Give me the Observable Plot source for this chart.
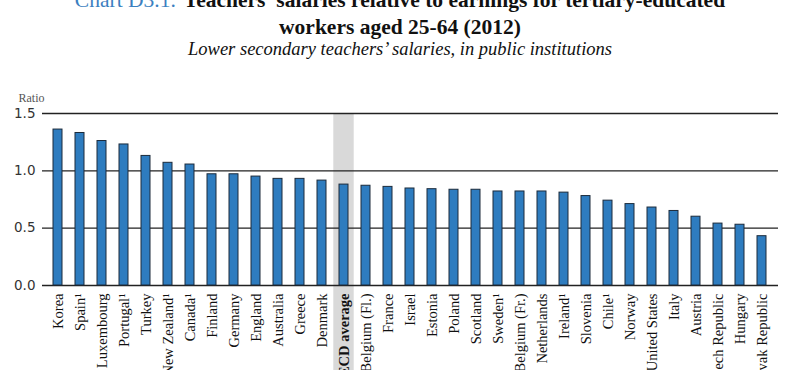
<!DOCTYPE html>
<html><head><meta charset="utf-8">
<script src="https://cdn.jsdelivr.net/npm/d3@7"></script>
<script src="https://cdn.jsdelivr.net/npm/@observablehq/plot@0.6"></script>
<style>
html,body{margin:0;padding:0;background:#fff;}
body{width:800px;height:370px;overflow:hidden;position:relative;}
.hd{position:absolute;left:0;width:800px;text-align:center;font-family:"Liberation Serif",serif;white-space:nowrap;}
.l1{top:-11px;font-size:21.5px;line-height:22px;font-weight:bold;color:#111;}
.l1 .cn{color:#3b7fc0;font-weight:normal;margin-right:8px;}
.l2{top:16px;font-size:21.5px;line-height:22px;font-weight:bold;color:#111;}
.l3{top:39px;font-size:18.5px;line-height:20px;font-style:italic;color:#111;}
#chart{position:absolute;left:0;top:60px;}
</style>
</head><body>
<div class="hd l1"><span class="cn">Chart D3.1.</span>Teachers’ salaries relative to earnings for tertiary-educated</div>
<div class="hd l2">workers aged 25-64 (2012)</div>
<div class="hd l3">Lower secondary teachers’ salaries, in public institutions</div>
<div id="chart"></div>
<script>
const countries = ["Korea","Spain¹","Luxembourg","Portugal¹","Turkey","New Zealand¹","Canada¹","Finland","Germany","England","Australia","Greece","Denmark","OECD average","Belgium (Fl.)","France","Israel","Estonia","Poland","Scotland","Sweden¹","Belgium (Fr.)","Netherlands","Ireland¹","Slovenia","Chile¹","Norway","United States","Italy","Austria","Czech Republic","Hungary","Slovak Republic"];
const ratios = [1.36,1.33,1.26,1.23,1.13,1.07,1.055,0.97,0.97,0.95,0.93,0.93,0.915,0.88,0.87,0.86,0.846,0.84,0.835,0.835,0.82,0.82,0.82,0.81,0.78,0.74,0.71,0.68,0.65,0.60,0.54,0.53,0.43];
const highlight = ["OECD average"];
const yTicks = [0, 0.5, 1.0, 1.5];
const yLabel = "Ratio";

const data = countries.map((c, i) => ({country: c, ratio: ratios[i]}));

const chart = Plot.plot({
  width: 800, height: 330,
  marginLeft: 42, marginRight: 22, marginTop: 53, marginBottom: 105,
  x: {domain: countries, paddingInner: 0.59, paddingOuter: 0.3, axis: null},
  y: {domain: [0, 1.5], axis: null},
  style: {background: "transparent", overflow: "visible"},
  marks: [
    Plot.barY(highlight, {x: d => d, y1: -1, y2: yTicks[yTicks.length - 1], fill: "#d9d9d9", insetLeft: -5.7, insetRight: -5.7}),
    Plot.ruleY(yTicks, {stroke: "#222", strokeWidth: 1.3}),
    Plot.barY(data, {x: "country", y: "ratio", fill: "#2e7cbf", stroke: "#1c2b3b", strokeWidth: 1}),
    Plot.axisY(yTicks, {tickSize: 0, tickPadding: 7, fontSize: 13.5, fontFamily: "DejaVu Sans", fill: "#333", tickFormat: d3.format(".1f"), label: null}),
    Plot.text([yLabel], {frameAnchor: "top-left", dx: -24, dy: -20, textAnchor: "start", fontSize: 12, fontFamily: "Liberation Serif", fill: "#555"}),
    Plot.text(countries.filter(c => !highlight.includes(c)), {x: d => d, y: 0, dy: 8, rotate: -90, textAnchor: "end", lineAnchor: "middle", fontSize: 14.5, fontFamily: "Liberation Serif", fill: "#111"}),
    Plot.text(highlight, {x: d => d, y: 0, dy: 8, rotate: -90, textAnchor: "end", lineAnchor: "middle", fontSize: 14.5, fontWeight: "bold", fontFamily: "Liberation Serif", fill: "#111"})
  ]
});
document.getElementById("chart").append(chart);
</script>
</body></html>
